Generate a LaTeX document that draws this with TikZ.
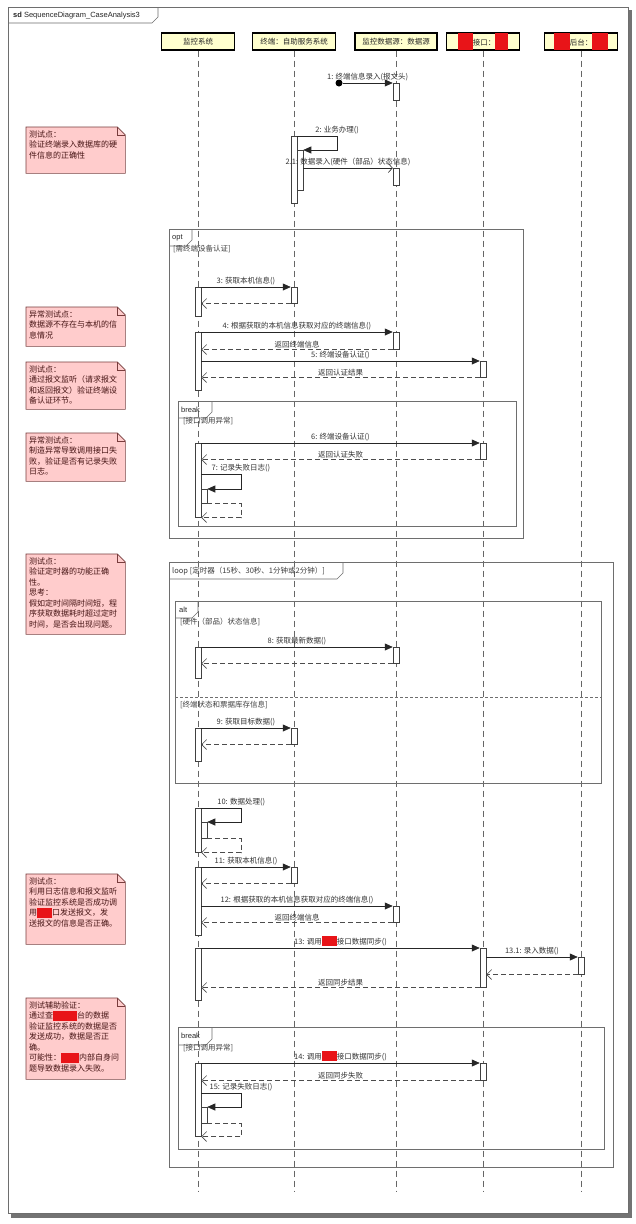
\documentclass[tikz,border=0pt]{standalone}
\usepackage{fontspec}
\setmainfont{Liberation Sans}
\newfontfamily\cjk{Noto Sans CJK SC}
\usetikzlibrary{arrows.meta, positioning, calc}
\definecolor{headyellow}{RGB}{255,255,206}
\definecolor{notepink}{RGB}{255,204,204}
\definecolor{noteline}{RGB}{120,60,60}
\definecolor{notetext}{RGB}{70,20,20}
\definecolor{blotred}{RGB}{232,20,24}
\definecolor{frameline}{RGB}{110,110,110}
\newcommand\redact[1]{\textcolor{blotred}{\rule[-2pt]{#1}{10pt}}}
\newcommand\redactbig[1]{\textcolor{blotred}{\rule[-5pt]{#1}{17pt}}}
\tikzset{
    lifehead/.style={rectangle, draw, line width=1.3pt, fill=headyellow, minimum height=17pt, inner sep=0pt, text=black!85, font=\cjk\fontsize{7.5}{9}\selectfont},
    lifeline/.style={draw=black!60, dash pattern=on 6pt off 4pt, line width=0.6pt},
    actbar/.style={rectangle, draw=black!75, fill=white, minimum width=6pt, inner sep=0pt, anchor=north, line width=0.5pt},
    msg/.style={-{Triangle[length=8pt,width=7pt]}, line width=0.6pt, black!85},
    asyncmsg/.style={-{Straight Barb[length=4pt,width=9pt]}, line width=0.6pt, black!85},
    retmsg/.style={-{Straight Barb[length=5pt,width=10pt]}, dash pattern=on 5pt off 3pt, line width=0.6pt, black!70},
    lbl/.style={font=\cjk\fontsize{7.5}{9}\selectfont, text=black!80, inner sep=1.5pt},
    frag/.style={draw=frameline, line width=0.6pt},
    fraglbl/.style={anchor=west, inner sep=0pt, text=black!85, font=\fontsize{7.5}{9}\selectfont},
    guard/.style={anchor=west, inner sep=0pt, text=black!75, font=\cjk\fontsize{7.5}{9}\selectfont},
    note/.style={fill=notepink, anchor=north west, text width=93pt, align=left, inner sep=3pt, text height=7pt, text=notetext, font=\cjk\fontsize{8}{10.5}\selectfont}
}
\begin{document}
\begin{tikzpicture}[x=1pt, y=-1pt]
            \useasboundingbox (0,0) rectangle (636,1224);
            % Diagram frame
            \fill[black!55] (11,10) rectangle (632,1218);
            \draw[frameline, fill=white, line width=0.7pt] (8,7) rectangle (628,1213);
            \draw[frameline, line width=0.6pt] (8,23) -- (152,23) -- (158,17) -- (158,7);
            \node (title) [fraglbl] at (13,15.5) {\textbf{sd} SequenceDiagram\_CaseAnalysis3};

            % Lifelines
            \node (h1) [lifehead, minimum width=73pt] at (198,41.5) {监控系统};
            \node (h2) [lifehead, minimum width=83pt] at (294,41.5) {终端：自助服务系统};
            \node (h3) [lifehead, minimum width=82pt] at (396,41.5) {监控数据源：数据源};
            \node (h4) [lifehead, minimum width=73pt] at (483,41.5) {\redactbig{15pt}接口：\redactbig{13pt}};
            \node (h5) [lifehead, minimum width=73pt] at (581,41.5) {\redactbig{16pt}后台：\redactbig{16pt}};
            \coordinate (lend) at (0,1192);
            \foreach \h in {h1,h2,h3,h4,h5}
                \draw[lifeline] (\h.south) -- (\h.south |- lend);

            % Combined fragments
            \draw[frag] (169,229) rectangle (523,538);
            \draw[frag] (169,246) -- (186,246) -- (192,240) -- (192,229);
            \node (optlab) [fraglbl] at (172,237.5) {opt};
            \node (optguard) [guard] at (173,249) {[需终端设备认证]};

            \draw[frag] (178,401) rectangle (516,526);
            \draw[frag] (178,418) -- (206,418) -- (212,412) -- (212,401);
            \node (brklab) [fraglbl] at (181,409.5) {break};
            \node (brkguard) [guard] at (183,421) {[接口调用异常]};

            \draw[frag] (169,562) rectangle (613,1167);
            \draw[frag] (169,579) -- (337,579) -- (343,573) -- (343,562);
            \node (looplab) [guard] at (172,571) {loop [定时器（15秒、30秒、1分钟或2分钟）]};

            \draw[frag] (175,601) rectangle (601,783);
            \draw[frag] (175,618) -- (192,618) -- (198,612) -- (198,601);
            \node (altlab) [fraglbl] at (179,609.5) {alt};
            \node (altguard) [guard] at (180,622) {[硬件（部品）状态信息]};
            \draw[frag, dash pattern=on 3pt off 2pt] (175,697) -- (601,697);
            \node (altguardb) [guard] at (180,705) {[终端状态和票据库存信息]};

            \draw[frag] (178,1027) rectangle (604,1149);
            \draw[frag] (178,1045) -- (206,1045) -- (212,1039) -- (212,1027);
            \node (brklabb) [fraglbl] at (181,1036) {break};
            \node (brkguardb) [guard] at (183,1048) {[接口调用异常]};

            % Activations
            \node (a1) [actbar, minimum height=17pt] at (396,83) {};
            \node (a2) [actbar, minimum height=67pt] at (294,136) {};
            \node (a2n) [actbar, minimum height=40pt] at (300,150) {};
            \node (a21) [actbar, minimum height=17pt] at (396,168) {};
            \node (a3s) [actbar, minimum height=29pt] at (198,287) {};
            \node (a3t) [actbar, minimum height=16pt] at (294,287) {};
            \node (a4s) [actbar, minimum height=58pt] at (198,332) {};
            \node (a4t) [actbar, minimum height=17pt] at (396,332) {};
            \node (a5t) [actbar, minimum height=16pt] at (483,361) {};
            \node (a6s) [actbar, minimum height=74pt] at (198,443) {};
            \node (a6t) [actbar, minimum height=16pt] at (483,443) {};
            \node (a7n) [actbar, minimum height=14pt] at (204,489) {};
            \node (a8s) [actbar, minimum height=31pt] at (198,647) {};
            \node (a8t) [actbar, minimum height=16pt] at (396,647) {};
            \node (a9s) [actbar, minimum height=33pt] at (198,728) {};
            \node (a9t) [actbar, minimum height=16pt] at (294,728) {};
            \node (a10s) [actbar, minimum height=44pt] at (198,808) {};
            \node (a10n) [actbar, minimum height=16pt] at (204,822) {};
            \node (a11s) [actbar, minimum height=68pt] at (198,867) {};
            \node (a11t) [actbar, minimum height=16pt] at (294,867) {};
            \node (a12t) [actbar, minimum height=16pt] at (396,906) {};
            \node (a13s) [actbar, minimum height=52pt] at (198,948) {};
            \node (a13t) [actbar, minimum height=39pt] at (483,948) {};
            \node (a131) [actbar, minimum height=17pt] at (581,957) {};
            \node (a14s) [actbar, minimum height=73pt] at (198,1063) {};
            \node (a14t) [actbar, minimum height=17pt] at (483,1063) {};
            \node (a15n) [actbar, minimum height=16pt] at (204,1107) {};

            % Messages
            \node (found) [circle, fill=black, inner sep=0pt, minimum size=7pt] at (339,83) {};
            \draw[msg] (found) -- node[lbl, above] (l1) {1: 终端信息录入(报文头)} (a1.north west);
            \draw[msg] (a2.north east) -- ++(40,0) node[lbl, above] (l2) {2: 业务办理()} |- (a2n.north east);
            \draw[asyncmsg] (a21.north west -| a2n.east) -- node[lbl, above] (l21) {2.1: 数据录入(硬件（部品）状态信息)} (a21.north west);

            \draw[msg] (a3t.north west -| a3s.east) -- node[lbl, above] (l3) {3: 获取本机信息()} (a3t.north west);
            \draw[retmsg] (a3t.south west) -- (a3t.south west -| a3s.east);
            \draw[msg] (a4t.north west -| a4s.east) -- node[lbl, above] (l4) {4: 根据获取的本机信息获取对应的终端信息()} (a4t.north west);
            \draw[retmsg] (a4t.south west) -- node[lbl, above] (r4) {返回终端信息} (a4t.south west -| a4s.east);
            \draw[msg] (a5t.north west -| a4s.east) -- node[lbl, above] (l5) {5: 终端设备认证()} (a5t.north west);
            \draw[retmsg] (a5t.south west) -- node[lbl, above] (r5) {返回认证结果} (a5t.south west -| a4s.east);

            \draw[msg] (a6t.north west -| a6s.east) -- node[lbl, above] (l6) {6: 终端设备认证()} (a6t.north west);
            \draw[retmsg] (a6t.south west) -- node[lbl, above] (r6) {返回认证失败} (a6t.south west -| a6s.east);
            \coordinate (c7) at (201,474);
            \draw[msg] (c7) -- ++(40,0) node[lbl, above] (l7) {7: 记录失败日志()} |- (a7n.north east);
            \draw[retmsg] (a7n.south east) -- ++(34,0) |- (a6s.south east);

            \draw[msg] (a8t.north west -| a8s.east) -- node[lbl, above] (l8) {8: 获取最新数据()} (a8t.north west);
            \draw[retmsg] (a8t.south west) -- (a8t.south west -| a8s.east);
            \draw[msg] (a9t.north west -| a9s.east) -- node[lbl, above] (l9) {9: 获取目标数据()} (a9t.north west);
            \draw[retmsg] (a9t.south west) -- (a9t.south west -| a9s.east);

            \draw[msg] (a10s.north east) -- ++(40,0) node[lbl, above] (l10) {10: 数据处理()} |- (a10n.north east);
            \draw[retmsg] (a10n.south east) -- ++(34,0) |- (a10s.south east);

            \draw[msg] (a11t.north west -| a11s.east) -- node[lbl, above] (l11) {11: 获取本机信息()} (a11t.north west);
            \draw[retmsg] (a11t.south west) -- (a11t.south west -| a11s.east);
            \draw[msg] (a12t.north west -| a11s.east) -- node[lbl, above] (l12) {12: 根据获取的本机信息获取对应的终端信息()} (a12t.north west);
            \draw[retmsg] (a12t.south west) -- node[lbl, above] (r12) {返回终端信息} (a12t.south west -| a11s.east);

            \draw[msg] (a13t.north west -| a13s.east) -- node[lbl, above] (l13) {13: 调用\redact{15pt}接口数据同步()} (a13t.north west);
            \draw[msg] (a131.north west -| a13t.east) -- node[lbl, above] (l131) {13.1: 录入数据()} (a131.north west);
            \draw[retmsg] (a131.south west) -- (a131.south west -| a13t.east);
            \draw[retmsg] (a13t.south west) -- node[lbl, above] (r13) {返回同步结果} (a13t.south west -| a13s.east);

            \draw[msg] (a14t.north west -| a14s.east) -- node[lbl, above] (l14) {14: 调用\redact{15pt}接口数据同步()} (a14t.north west);
            \draw[retmsg] (a14t.south west) -- node[lbl, above] (r14) {返回同步失败} (a14t.south west -| a14s.east);
            \coordinate (c15) at (201,1093);
            \draw[msg] (c15) -- ++(40,0) node[lbl, above] (l15) {15: 记录失败日志()} |- (a15n.north east);
            \draw[retmsg] (a15n.south east) -- ++(34,0) |- (a14s.south east);

            % Notes
            \node (n1) [note, text depth=33pt] at (26,127) {测试点：\\验证终端录入数据库的硬\\件信息的正确性};
            \node (n2) [note, text depth=26pt] at (26,307) {异常测试点：\\数据源不存在与本机的信\\息情况};
            \node (n3) [note, text depth=34pt] at (26,362) {测试点：\\通过报文监听（请求报文\\和返回报文）验证终端设\\备认证环节。};
            \node (n4) [note, text depth=35pt] at (26,433) {异常测试点：\\制造异常导致调用接口失\\败，验证是否有记录失败\\日志。};
            \node (n5) [note, text depth=67pt] at (26,554) {测试点：\\验证定时器的功能正确\\性。\\思考：\\假如定时间隔时间短，程\\序获取数据耗时超过定时\\时间，是否会出现问题。};
            \node (n6) [note, text depth=57pt] at (26,874) {测试点：\\利用日志信息和报文监听\\验证监控系统是否成功调\\用\redact{15pt}口发送报文，发\\送报文的信息是否正确。};
            \node (n7) [note, text depth=68pt] at (26,998) {测试辅助验证：\\通过查\redact{24pt}台的数据\\验证监控系统的数据是否\\发送成功，数据是否正\\确。\\可能性：\redact{18pt}内部自身问\\题导致数据录入失败。};
            \foreach \n in {n1,n2,n3,n4,n5,n6,n7} {
                \fill[white] ($(\n.north east)+(-8,0)$) -- (\n.north east) -- ($(\n.north east)+(0,8)$) -- cycle;
                \draw[noteline, line width=0.6pt] (\n.north west) -- ($(\n.north east)+(-8,0)$) -- ($(\n.north east)+(0,8)$) -- (\n.south east) -- (\n.south west) -- cycle;
                \draw[noteline, line width=0.6pt] ($(\n.north east)+(-8,0)$) -- ++(0,8) -- ++(8,0);
            }
\end{tikzpicture}
\end{document}
